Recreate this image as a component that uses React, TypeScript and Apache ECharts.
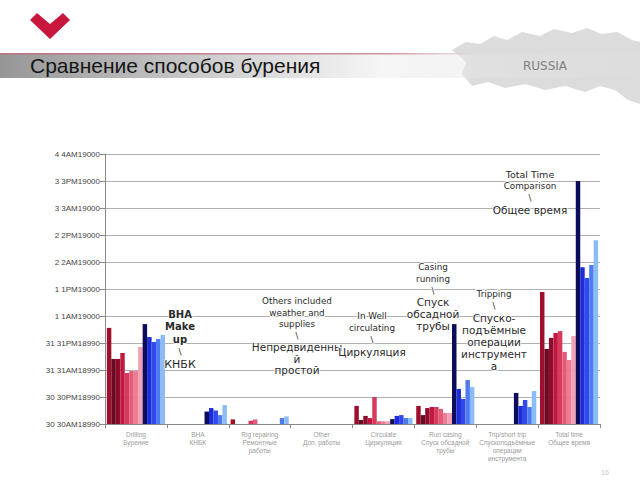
import React, { useEffect, useRef } from "react";
import * as echarts from "echarts";

const categories = [
  "Drilling\nБурение",
  "BHA\nКНБК",
  "Rig repairing\nРемонтные\nработы",
  "Other\nДоп. работы",
  "Circulate\nЦиркуляция",
  "Run casing\nСпуск обсадной\nтрубы",
  "Trip/short trip\nСпускоподъёмные\nоперации\nинструмента",
  "Total time\nОбщее время",
];

const yTickLabels = [
  "30 30AM18990",
  "30 30PM18990",
  "31 31AM18990",
  "31 31PM18990",
  "1 1AM19000",
  "1 1PM19000",
  "2 2AM19000",
  "2 2PM19000",
  "3 3AM19000",
  "3 3PM19000",
  "4 4AM19000",
];

const red1 = [3.56, 0, 0.17, 0, 0.67, 0.67, 0, 4.89];
const red2 = [2.41, 0, 0, 0, 0.15, 0.33, 0, 2.78];
const red3 = [2.41, 0, 0, 0, 0.3, 0.59, 0, 3.19];
const red4 = [2.63, 0, 0, 0, 0.22, 0.63, 0, 3.37];
const red5 = [1.89, 0, 0.12, 0, 1.0, 0.63, 0, 3.44];
const red6 = [1.96, 0, 0.17, 0, 0.1, 0.56, 0, 2.67];
const red7 = [1.96, 0, 0, 0, 0.1, 0.41, 0, 2.37];
const red8 = [2.85, 0, 0, 0, 0.1, 0.41, 0, 3.26];
const blue1 = [3.7, 0.46, 0, 0, 0.18, 3.7, 1.15, 9.0];
const blue2 = [3.22, 0.59, 0, 0, 0.3, 1.3, 0.67, 5.81];
const blue3 = [3.04, 0.5, 0, 0, 0.33, 0.93, 0.89, 5.41];
const blue4 = [3.15, 0.33, 0.22, 0, 0.22, 1.63, 0.63, 5.89];
const blue5 = [3.3, 0.7, 0.28, 0, 0.22, 1.37, 1.22, 6.81];

const seriesData = [red1, red2, red3, red4, red5, red6, red7, red8, blue1, blue2, blue3, blue4, blue5];
const seriesColors = [
  "#9C0F2F", "#6B0A22", "#8A0E2C", "#C01840", "#D83A5E", "#E45A78", "#EC7C94", "#F2A0B2",
  "#0C0C5C", "#1C2CD8", "#3048EC", "#4C7CF0", "#8CBCF8",
];

type Line = { t: string; size: number; bold?: boolean };
const annotations: { x: number; y: number; step: number; lines: Line[] }[] = [
  { x: 180, y: 314, step: 12.5, lines: [
    { t: "BHA", size: 10, bold: true }, { t: "Make", size: 10, bold: true }, { t: "up", size: 10, bold: true },
    { t: "\\", size: 9 }, { t: "КНБК", size: 11 } ] },
  { x: 297, y: 301, step: 11.5, lines: [
    { t: "Others included", size: 8.8 }, { t: "weather and", size: 8.8 }, { t: "supplies", size: 8.8 },
    { t: "\\", size: 8.5 }, { t: "Непредвиденны", size: 10.5 }, { t: "й", size: 10.5 }, { t: "простой", size: 10.5 } ] },
  { x: 372, y: 316, step: 12, lines: [
    { t: "In Well", size: 8.8 }, { t: "circulating", size: 8.8 }, { t: "\\", size: 8.5 }, { t: "Циркуляция", size: 10.5 } ] },
  { x: 433, y: 267, step: 11.8, lines: [
    { t: "Casing", size: 8.8 }, { t: "running", size: 8.8 }, { t: "\\", size: 8.5 },
    { t: "Спуск", size: 10.5 }, { t: "обсадной", size: 10.5 }, { t: "трубы", size: 10.5 } ] },
  { x: 494, y: 294, step: 12, lines: [
    { t: "Tripping", size: 8.8 }, { t: "\\", size: 8.5 }, { t: "Спуско-", size: 10.5 }, { t: "подъёмные", size: 10.5 },
    { t: "операции", size: 10.5 }, { t: "инструмент", size: 10.5 }, { t: "а", size: 10.5 } ] },
  { x: 530, y: 174, step: 12, lines: [
    { t: "Total Time", size: 9.5 }, { t: "Comparison", size: 8.8 }, { t: "\\", size: 8.5 }, { t: "Общее время", size: 10.5 } ] },
];

export default function App() {
  const ref = useRef<HTMLDivElement>(null);
  useEffect(() => {
    if (!ref.current) return;
    const chart = echarts.init(ref.current, null, { renderer: "svg" });

    const annoGraphics: any[] = [];
    annotations.forEach((a) => {
      a.lines.forEach((l, i) => {
        annoGraphics.push({
          type: "text",
          x: a.x,
          y: a.y + i * a.step,
          z: 100,
          style: {
            text: l.t,
            fill: "#2a2a2a",
            font: `${l.bold ? "bold " : ""}${l.size}px "DejaVu Sans", sans-serif`,
            textAlign: "center",
            textVerticalAlign: "middle",
            stroke: "rgba(255,255,255,0.8)",
            lineWidth: 2,
          },
        });
      });
    });

    const option: any = {
      animation: false,
      backgroundColor: "#ffffff",
      grid: { left: 105, right: 40, top: 154, bottom: 56, containLabel: false },
      xAxis: {
        type: "category",
        data: categories,
        axisLine: { lineStyle: { color: "#888", width: 1 } },
        axisTick: { show: true, length: 4, lineStyle: { color: "#888" } },
        axisLabel: {
          color: "#9a9a9a",
          fontSize: 6.5,
          lineHeight: 8,
          margin: 6,
          interval: 0,
          fontFamily: "Liberation Sans, Arial, sans-serif",
        },
      },
      yAxis: {
        type: "value",
        min: 0,
        max: 10,
        interval: 1,
        axisLine: { show: true, lineStyle: { color: "#888" } },
        axisTick: { show: true, length: 5, lineStyle: { color: "#888" } },
        splitLine: { show: true, lineStyle: { color: "#b0b0b0", width: 1 } },
        axisLabel: {
          color: "#444",
          fontSize: 8,
          margin: 5,
          fontFamily: "'Liberation Sans Narrow', 'Liberation Sans', Arial, sans-serif",
          formatter: (v: number) => yTickLabels[Math.round(v)] ?? "",
        },
      },
      series: seriesData.map((d, i) => ({
        type: "bar",
        name: "s" + (i + 1),
        data: d,
        barGap: "0%",
        barCategoryGap: "6%",
        itemStyle: { color: seriesColors[i] },
      })),
      graphic: [
        {
          type: "polygon",
          z: 1,
          shape: {
            points: [
              [452, 50], [466, 42], [480, 44], [494, 36], [507, 40], [522, 32], [540, 36], [554, 29],
              [572, 33], [587, 28], [602, 34], [617, 32], [632, 40], [640, 42], [640, 104], [628, 100],
              [615, 90], [600, 86], [585, 92], [565, 86], [545, 90], [525, 84], [505, 88], [488, 82],
              [472, 86], [462, 74], [466, 62],
            ],
          },
          style: { fill: "#dcdcdc" },
        },
        {
          type: "rect",
          z: 2,
          shape: { x: 0, y: 53, width: 640, height: 25 },
          style: {
            fill: new echarts.graphic.LinearGradient(0, 0, 1, 0, [
              { offset: 0, color: "rgba(150,150,150,1)" },
              { offset: 0.3, color: "rgba(200,200,200,1)" },
              { offset: 0.6, color: "rgba(245,245,245,0.9)" },
              { offset: 0.75, color: "rgba(230,230,230,0.4)" },
              { offset: 1, color: "rgba(225,225,225,0.2)" },
            ]),
          },
        },
        {
          type: "rect",
          z: 3,
          shape: { x: 0, y: 53, width: 480, height: 1.5 },
          style: {
            fill: new echarts.graphic.LinearGradient(0, 0, 1, 0, [
              { offset: 0, color: "rgba(190,110,125,0.9)" },
              { offset: 0.8, color: "rgba(200,120,135,0.8)" },
              { offset: 1, color: "rgba(200,120,135,0)" },
            ]),
          },
        },
        {
          type: "polygon",
          z: 3,
          shape: {
            points: [[30, 20], [37, 13], [44, 19], [50, 24], [56, 19], [63, 13], [70, 20], [50, 39]],
          },
          style: { fill: "#C8173D" },
        },
        {
          type: "text",
          z: 4,
          x: 30,
          y: 65,
          style: {
            text: "Сравнение способов бурения",
            fill: "#151515",
            font: 'normal 21px "Liberation Sans", Arial, sans-serif',
            textVerticalAlign: "middle",
          },
        },
        {
          type: "text",
          z: 4,
          x: 545,
          y: 66,
          style: {
            text: "RUSSIA",
            fill: "#808080",
            font: 'normal 12px "DejaVu Sans", sans-serif',
            textAlign: "center",
            textVerticalAlign: "middle",
          },
        },
        {
          type: "text",
          z: 4,
          x: 605,
          y: 472,
          style: { text: "16", fill: "#c8c8c8", font: '7px "Liberation Sans", sans-serif', textAlign: "center", textVerticalAlign: "middle" },
        },
        ...annoGraphics,
      ],
    };
    chart.setOption(option);
    return () => chart.dispose();
  }, []);
  return (
    <div
      ref={ref}
      style={{ position: "fixed", left: 0, top: 0, width: 640, height: 480, background: "#fff" }}
    />
  );
}
